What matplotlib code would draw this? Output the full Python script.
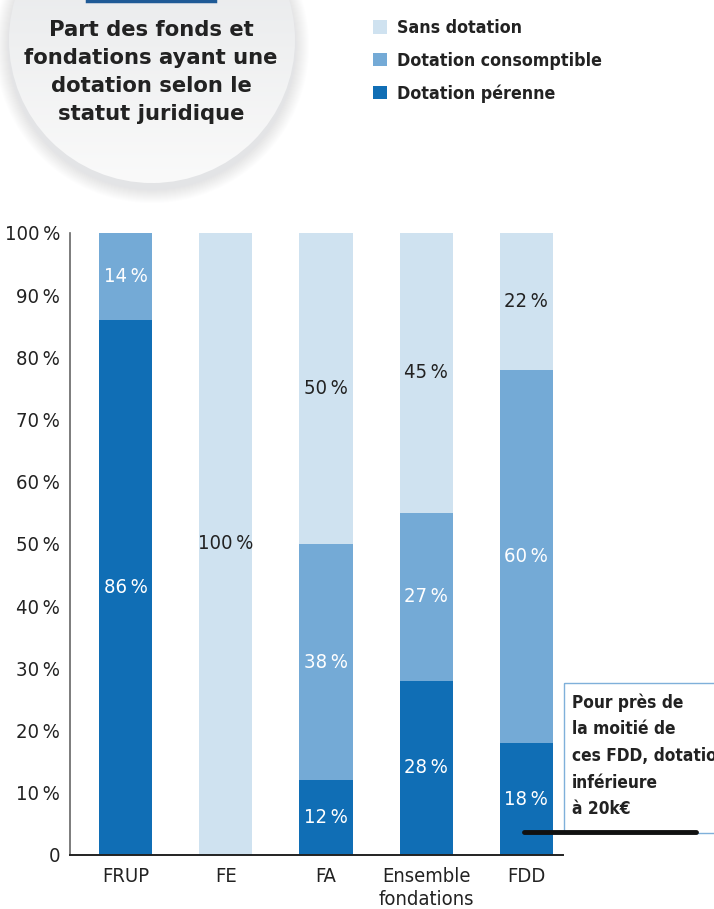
import numpy as np
import matplotlib
matplotlib.use("Agg")
import matplotlib.pyplot as plt
from matplotlib.colors import LinearSegmentedColormap
from matplotlib.patches import Circle, Rectangle
from matplotlib.lines import Line2D

# Data
categories = ["FRUP", "FE", "FA", "Ensemble\nfondations", "FDD"]
perenne = [86, 0, 12, 28, 18]
consomptible = [14, 0, 38, 27, 60]
sans = [0, 100, 50, 45, 22]
series_names = ["Dotation pérenne", "Dotation consomptible", "Sans dotation"]
yticks = [0, 10, 20, 30, 40, 50, 60, 70, 80, 90, 100]

c_dark = "#106eb5"
c_mid = "#74aad6"
c_light = "#cfe2f0"
txt = "#222222"

plt.rcParams["font.family"] = ["DejaVu Sans"]
plt.rcParams["font.stretch"] = "condensed"

W, H = 714, 909
fig = plt.figure(figsize=(W / 100, H / 100), dpi=100)

# overlay in pixel coords for the decorations
bg = fig.add_axes([0, 0, 1, 1], zorder=0)
bg.set_xlim(0, W)
bg.set_ylim(H, 0)
bg.axis("off")

# title bubble with soft shadow
cx, cy, r = 152, 40, 143
for i in range(14):
    bg.add_patch(Circle((cx, cy + 6), r + 14 - i, color="#b8bcc0", alpha=0.025, lw=0))
circ = Circle((cx, cy), r, color="none", lw=0)
bg.add_patch(circ)
grad = np.linspace(0, 1, 256).reshape(-1, 1)
im = bg.imshow(grad, cmap=LinearSegmentedColormap.from_list("g", ["#e3e5e7", "#fafafa"]),
               extent=(cx - r, cx + r, cy + r, cy - r), aspect="auto", zorder=1)
im.set_clip_path(circ)
bg.plot([87, 215], [0.8, 0.8], color="#1f5a96", lw=2.5, zorder=2)
bg.text(151, 72, "Part des fonds et\nfondations ayant une\ndotation selon le\nstatut juridique",
        ha="center", va="center", fontsize=15.2, fontweight="bold", color=txt,
        family="DejaVu Sans", stretch="normal", linespacing=1.5, zorder=3)

# main chart
ax = fig.add_axes([70 / W, 1 - 855 / H, 493 / W, 622 / H], zorder=2)
ax.patch.set_alpha(0)
x = np.arange(len(categories))
bw = 0.53
b1 = ax.bar(x, perenne, bw, color=c_dark, label=series_names[0])
b2 = ax.bar(x, consomptible, bw, bottom=perenne, color=c_mid, label=series_names[1])
bot2 = np.array(perenne) + np.array(consomptible)
b3 = ax.bar(x, sans, bw, bottom=bot2, color=c_light, label=series_names[2])

for i in range(len(x)):
    for val, base, col in [(perenne[i], 0, "white"), (consomptible[i], perenne[i], "white"),
                           (sans[i], bot2[i], txt)]:
        if val > 0:
            ax.text(x[i], base + val / 2, f"{val}\u2009%", ha="center", va="center",
                    fontsize=14.5, color=col)

ax.set_xlim(-0.555, 4.365)
ax.set_ylim(0, 100)
ax.set_yticks(yticks)
ax.set_yticklabels(["0"] + [f"{v}\u2009%" for v in yticks[1:]], fontsize=14.5, color=txt)
ax.set_xticks(x)
ax.set_xticklabels(categories, fontsize=14.5, color=txt, linespacing=1.25)
ax.tick_params(length=0, pad=9)
ax.tick_params(axis="y", pad=7)
for s in ["top", "right"]:
    ax.spines[s].set_visible(False)
ax.spines["left"].set_color("#666666")
ax.spines["left"].set_linewidth(1.2)
ax.spines["bottom"].set_color("#222222")
ax.spines["bottom"].set_linewidth(1.4)

# legend
leg = fig.legend(handles=[b3, b2, b1], labels=[series_names[2], series_names[1], series_names[0]],
                 loc="upper left", bbox_to_anchor=(373 / W, 1 - 19 / H), frameon=False,
                 borderpad=0, borderaxespad=0,
                 handlelength=0.8, handleheight=0.8, handletextpad=0.55, labelspacing=0.82,
                 prop={"family": "DejaVu Sans", "stretch": "condensed", "weight": "bold", "size": 12.8})
for t in leg.get_texts():
    t.set_color(txt)

# annotation box
fg = fig.add_axes([0, 0, 1, 1], zorder=3)
fg.set_xlim(0, W)
fg.set_ylim(H, 0)
fg.axis("off")
fg.add_patch(Rectangle((564, 683), 200, 150, fill=False, ec="#7fb0da", lw=1.0, clip_on=False))
fg.text(572, 693, "Pour près de\nla moitié de\nces FDD, dotation\ninférieure\nà 20k€",
        ha="left", va="top", fontsize=12.4, fontweight="bold", color=txt, linespacing=1.62)
fg.add_line(Line2D([524, 696], [832, 832], color="#111111", lw=3.5, solid_capstyle="round"))

fig.savefig("out.png", dpi=100)
